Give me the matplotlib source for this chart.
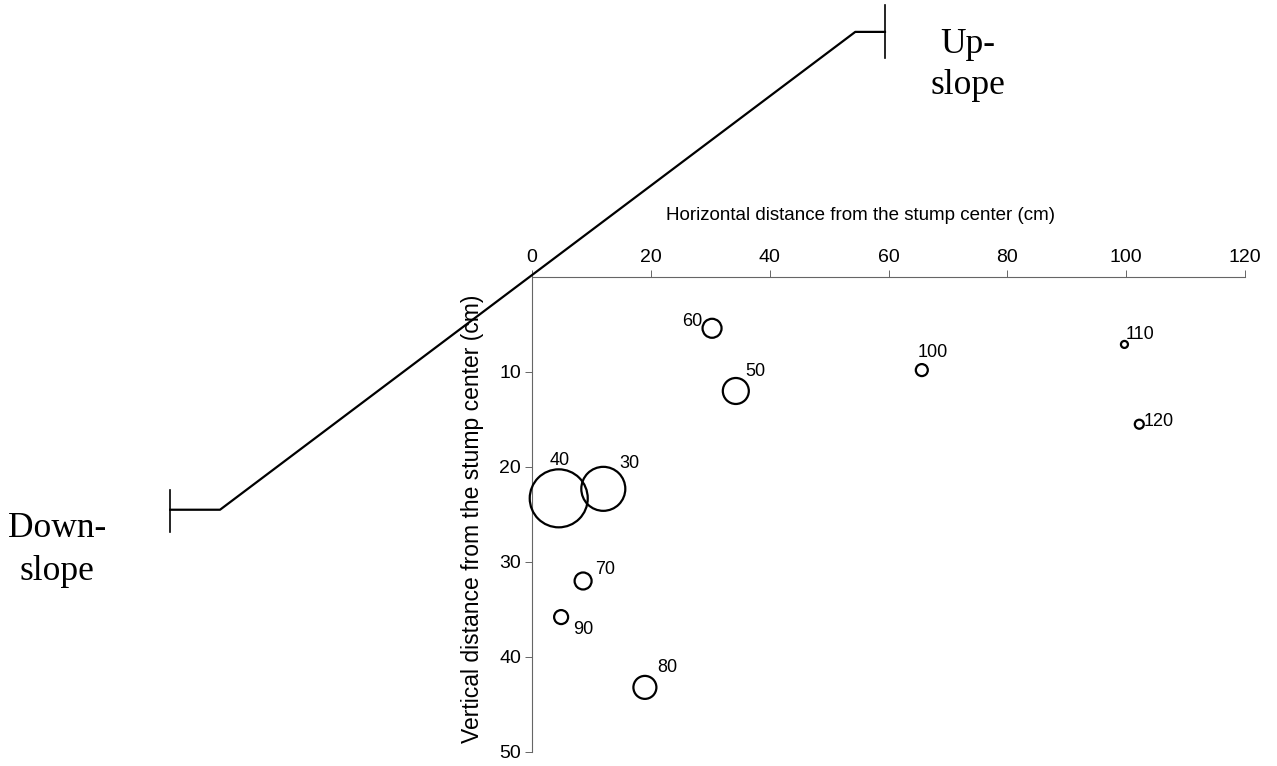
import matplotlib.pyplot as plt

plt.rcParams['font.family'] = ['Liberation Sans', 'DejaVu Sans']

# root positions (cm) and drawn circle diameter (px)
labels = ['30', '40', '50', '60', '70', '80', '90', '100', '110', '120']
xs = [12.0, 4.5, 34.3, 30.3, 8.6, 19.0, 4.9, 65.6, 99.7, 102.2]
ys = [22.3, 23.3, 12.0, 5.4, 32.0, 43.2, 35.8, 9.8, 7.1, 15.5]
diam = [44, 58, 26, 19, 17, 23, 14, 12, 7, 9]
# label offsets in points
offsets = [(19, 18), (1, 27), (14, 14), (-14, 5), (16, 8), (16, 14),
           (16, -9), (8, 13), (11, 7), (14, 2)]

xticks = [0, 20, 40, 60, 80, 100, 120]
yticks = [10, 20, 30, 40, 50]

# slope profile sketch
slope_x = [-60.9, -52.5, 54.4, 59.4]
slope_y = [24.5, 24.5, -25.8, -25.8]

dpi = 100
fig = plt.figure(figsize=(12.77, 7.66), dpi=dpi)
ax = fig.add_axes([0.4166, 0.0183, 0.5584, 0.6201])

sizes = [(d * 72 / dpi) ** 2 for d in diam]
ax.scatter(xs, ys, s=sizes, facecolors='none', edgecolors='black',
           linewidths=1.6, zorder=3, clip_on=False)
for lab, x, y, off in zip(labels, xs, ys, offsets):
    ax.annotate(lab, (x, y), xytext=off, textcoords='offset points',
                ha='center', va='center', fontsize=13)

ax.set_xlim(0, 120)
ax.set_ylim(50, 0)
ax.set_xticks(xticks)
ax.set_yticks(yticks)
ax.xaxis.tick_top()
ax.xaxis.set_label_position('top')
ax.set_xlabel('Horizontal distance from the stump center (cm)', fontsize=13.5, labelpad=12)
ax.xaxis.set_label_coords(0.461, 1.12)
ax.set_ylabel('Vertical distance from the stump center (cm)', fontsize=16.5, labelpad=6)
ax.yaxis.set_label_coords(-0.068, 0.49)
ax.tick_params(axis='both', labelsize=14, length=5, width=0.7, color='#666666', pad=3)
ax.spines['right'].set_visible(False)
ax.spines['bottom'].set_visible(False)
for s in ['top', 'left']:
    ax.spines[s].set_color('#666666')
    ax.spines[s].set_linewidth(0.8)

# slope line with end bars
ax.plot(slope_x, slope_y, color='black', lw=1.6, clip_on=False, zorder=4)
ax.plot([slope_x[0], slope_x[0]], [22.4, 26.8], color='black', lw=1.2, clip_on=False)
ax.plot([slope_x[-1], slope_x[-1]], [-28.6, -23.1], color='black', lw=1.2, clip_on=False)

fig.text(968 / 1277, 1 - 65 / 766, 'Up-\nslope', family='Liberation Serif', fontsize=25.5,
         ha='center', va='center', linespacing=1.35)
fig.text(57 / 1277, 1 - 550 / 766, 'Down-\nslope', family='Liberation Serif', fontsize=25.5,
         ha='center', va='center', linespacing=1.4)

fig.savefig('out.png', dpi=dpi)
